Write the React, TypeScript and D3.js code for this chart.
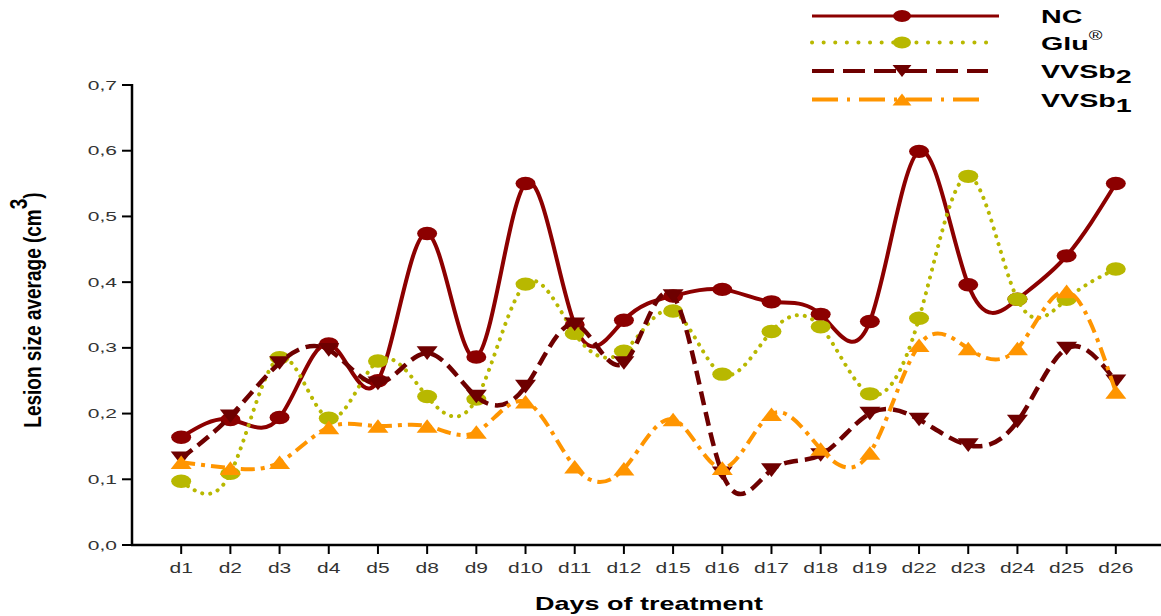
import React from "react";
import * as d3 from "d3";

const days = ["d1", "d2", "d3", "d4", "d5", "d8", "d9", "d10", "d11", "d12", "d15", "d16", "d17", "d18", "d19", "d22", "d23", "d24", "d25", "d26"];
const nc = [0.164, 0.191, 0.194, 0.306, 0.25, 0.474, 0.286, 0.55, 0.335, 0.342, 0.379, 0.389, 0.37, 0.351, 0.34, 0.599, 0.396, 0.374, 0.44, 0.55];
const glu = [0.097, 0.109, 0.285, 0.193, 0.28, 0.226, 0.222, 0.397, 0.322, 0.295, 0.356, 0.26, 0.325, 0.332, 0.23, 0.345, 0.561, 0.374, 0.374, 0.42];
const vvsb2 = [0.132, 0.196, 0.277, 0.297, 0.246, 0.292, 0.226, 0.241, 0.336, 0.277, 0.379, 0.109, 0.114, 0.137, 0.2, 0.191, 0.152, 0.188, 0.299, 0.249];
const vvsb1 = [0.126, 0.117, 0.126, 0.179, 0.181, 0.181, 0.172, 0.218, 0.119, 0.116, 0.191, 0.117, 0.199, 0.146, 0.14, 0.304, 0.299, 0.299, 0.386, 0.233];
const yTicks = [0, 0.1, 0.2, 0.3, 0.4, 0.5, 0.6, 0.7];
const yTickLabels = ["0,0", "0,1", "0,2", "0,3", "0,4", "0,5", "0,6", "0,7"];

const FONT = "'Liberation Sans', Arial, sans-serif";

const series = [
  { key: "NC", values: nc, color: "#8c0000", dash: null, width: 4, legendDash: null, marker: "circle" },
  { key: "Glu", values: glu, color: "#b8b800", dash: "0.1,8", cap: "round", width: 4, legendDash: "0.1,11.5", marker: "circle" },
  { key: "VVSb2", values: vvsb2, color: "#6e0000", dash: "14,7", width: 4.5, legendDash: "22,9", marker: "down" },
  { key: "VVSb1", values: vvsb1, color: "#ff9500", dash: "14,6,4,6", width: 4, legendDash: "26,9,3,9", marker: "up" },
];

const Marker = ({ type, x, y, color, s = 1 }) => {
  if (type === "circle") return <ellipse cx={x} cy={y} rx={10 * s} ry={6.7 * s} fill={color} />;
  const w = 10.5 * s, h = 6.8 * s;
  const d = type === "down"
    ? `M${x - w},${y - h}L${x + w},${y - h}L${x},${y + h}Z`
    : `M${x - w},${y + h}L${x + w},${y + h}L${x},${y - h}Z`;
  return <path d={d} fill={color} />;
};

// the source picture is stretched sideways, so text gets a horizontal scale
const SText = ({ x, y, sx = 1.4, anchor = "start", size, weight = "normal", fill = "#000", children }) => (
  <g transform={`translate(${x},${y}) scale(${sx},1)`}>
    <text textAnchor={anchor} fontFamily={FONT} fontSize={size} fontWeight={weight} fill={fill}>{children}</text>
  </g>
);

export default function App() {
  const left = 132, bottom = 545, top = 85;
  const x = d3.scalePoint().domain(days).range([left, 1165]).padding(1);
  const y = d3.scaleLinear().domain([0, 0.7]).range([bottom, top]);
  const line = d3.line<number>().x((_, i) => x(days[i])).y(d => y(d)).curve(d3.curveNatural);

  const legendY = [16, 42.5, 71, 99.5];
  const legendText = [
    <>NC</>,
    <>Glu<tspan fontSize={12} dy={-10} fontWeight="normal">®</tspan></>,
    <>VVSb<tspan dy={5}>2</tspan></>,
    <>VVSb<tspan dy={5}>1</tspan></>,
  ];
  const legendEnd = [999, 995, 988, 987];

  return (
    <svg width={1161} height={616} style={{ position: "absolute", left: 0, top: 0, background: "#fff" }}>
      {/* axes */}
      <line x1={left} x2={left} y1={top - 1} y2={bottom + 1} stroke="#000" strokeWidth={2.5} />
      <line x1={left - 1} x2={1161} y1={bottom} y2={bottom} stroke="#000" strokeWidth={2.5} />
      {yTicks.map((t, i) => (
        <g key={t}>
          <line x1={left - 10} x2={left} y1={y(t)} y2={y(t)} stroke="#000" strokeWidth={2} />
          <SText x={117} y={y(t) + 4.5} sx={1.75} anchor="end" size={12} fill="#333">{yTickLabels[i]}</SText>
        </g>
      ))}
      {days.map(d => (
        <g key={d}>
          <line x1={x(d)} x2={x(d)} y1={bottom} y2={bottom + 9} stroke="#000" strokeWidth={2} />
          <SText x={x(d)} y={573} sx={1.5} anchor="middle" size={14} fill="#333">{d}</SText>
        </g>
      ))}
      <SText x={649} y={610} sx={1.42} anchor="middle" size={19} weight="bold">Days of treatment</SText>
      <g transform="translate(41,310) rotate(-90) scale(1,1.3)">
        <text textAnchor="middle" fontFamily={FONT} fontSize={19} fontWeight="bold">
          Lesion size average (cm<tspan dy={-11}>3</tspan><tspan dy={11}>)</tspan>
        </text>
      </g>

      {/* series */}
      {series.map(s => (
        <g key={s.key}>
          <path d={line(s.values)} fill="none" stroke={s.color} strokeWidth={s.width}
            strokeDasharray={s.dash || undefined} strokeLinecap={s.cap || "butt"} />
          {s.values.map((v, i) => (
            <Marker key={i} type={s.marker} x={x(days[i])} y={y(v)} color={s.color} />
          ))}
        </g>
      ))}

      {/* legend */}
      {series.map((s, i) => (
        <g key={s.key}>
          <line x1={812} x2={legendEnd[i]} y1={legendY[i]} y2={legendY[i]} stroke={s.color}
            strokeWidth={i === 0 ? 3 : 4} strokeDasharray={s.legendDash || undefined} strokeLinecap={s.cap || "butt"} />
          <Marker type={s.marker} x={902} y={legendY[i]} color={s.color} s={0.9} />
          <SText x={1041} y={legendY[i] + 7} sx={1.55} size={18.5} weight="bold">{legendText[i]}</SText>
        </g>
      ))}
    </svg>
  );
}
